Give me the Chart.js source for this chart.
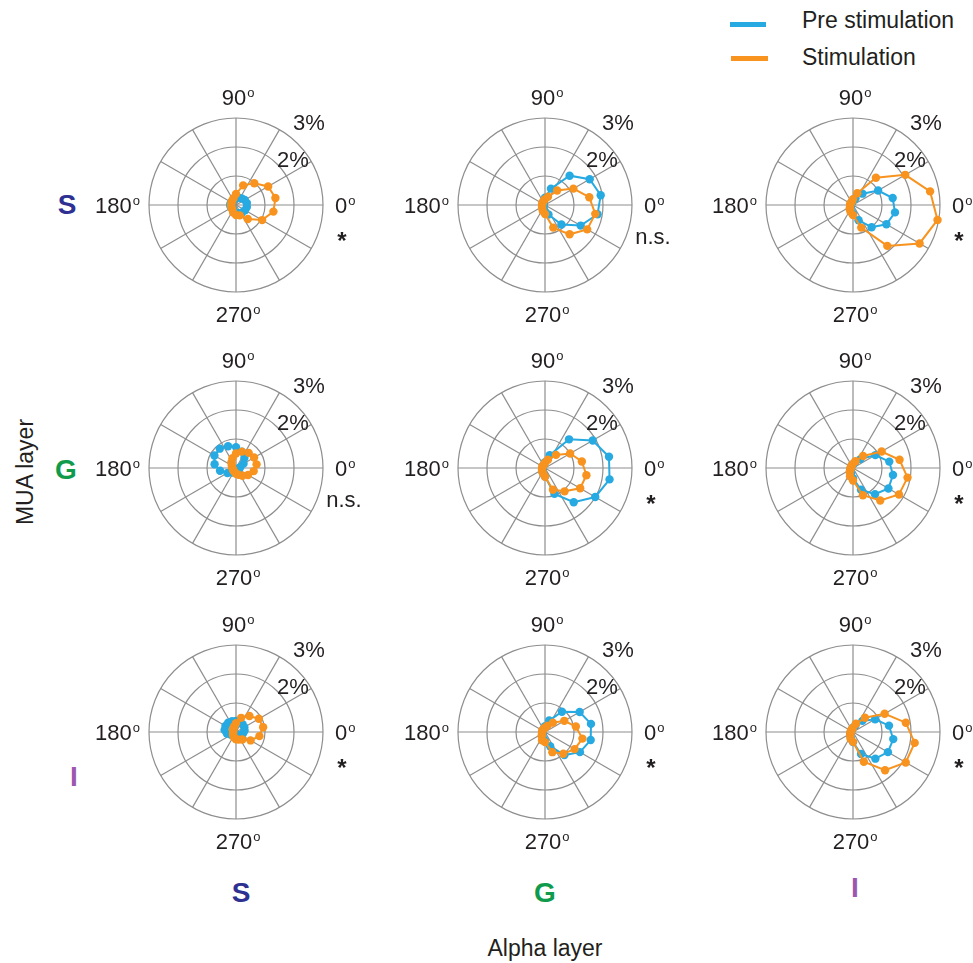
<!DOCTYPE html>
<html>
<head>
<meta charset="utf-8">
<script src="https://cdn.jsdelivr.net/npm/chart.js@4.4.1/dist/chart.umd.min.js"></script>
<style>
  body { margin: 0; background: #fff; }
  #fig { position: relative; width: 973px; height: 963px; overflow: hidden;
         font-family: "Liberation Sans", Arial, sans-serif; color: #231f20; }
  #fig canvas { position: absolute; }
  .txt { position: absolute; white-space: nowrap; transform: translate(-50%, -50%); }
  .leg { position: absolute; white-space: nowrap; transform: translateY(-50%); font-size: 23px; }
  .lay { font-weight: bold; font-size: 28px; }
  .bar { position: absolute; height: 5px; }
</style>
</head>
<body>
<div id="fig">
  <div class="bar" style="left:730px;top:22px;width:36px;background:#27aae1"></div>
  <div class="leg" style="left:802px;top:20px;">Pre stimulation</div>
  <div class="bar" style="left:731px;top:56px;width:37px;background:#f7931e"></div>
  <div class="leg" style="left:802px;top:57px;">Stimulation</div>

  <div class="txt lay" style="left:67px;top:205px;color:#2e3192">S</div>
  <div class="txt lay" style="left:66px;top:470px;color:#0f9b4b">G</div>
  <div class="txt lay" style="left:74px;top:777px;color:#9b57b0">I</div>
  <div class="txt lay" style="left:241px;top:893px;color:#2e3192">S</div>
  <div class="txt lay" style="left:545px;top:893px;color:#0f9b4b">G</div>
  <div class="txt lay" style="left:855px;top:888px;color:#9b57b0">I</div>

  <div class="txt" style="left:25px;top:472px;font-size:23px;transform:translate(-50%,-50%) rotate(-90deg)">MUA layer</div>
  <div class="txt" style="left:545px;top:948px;font-size:23px;">Alpha layer</div>
</div>

<script>
// phase bins (deg, counter-clockwise from 0)
const angles = [10, 30, 50, 70, 90, 110, 130, 150, 170, 190, 210, 230, 250, 270, 290, 310, 330, 350];
const ringTicks = [1, 2, 3];
const ringLabels = ['2%', '3%'];
const degLabels = ['0', '90', '180', '270'];

// pre_X_Y / stim_X_Y : MUA layer X, alpha layer Y  (% change)
const pre_S_S  = [0.38, 0.35, 0.30, 0.27, 0.25, 0.20, 0.17, 0.18, 0.20, 0.20, 0.18, 0.17, 0.22, 0.27, 0.30, 0.33, 0.36, 0.38];
const stim_S_S = [1.38, 1.28, 0.98, 0.72, 0.38, 0.25, 0.20, 0.18, 0.17, 0.17, 0.18, 0.20, 0.28, 0.35, 0.38, 0.63, 1.04, 1.31];
const pre_S_G  = [1.95, 1.78, 1.32, 0.60, 0.25, 0.12, 0.08, 0.06, 0.05, 0.05, 0.06, 0.08, 0.15, 0.22, 0.35, 0.88, 1.42, 1.84];
const stim_S_G = [1.55, 1.13, 0.65, 0.30, 0.20, 0.15, 0.12, 0.10, 0.10, 0.10, 0.12, 0.15, 0.22, 0.31, 0.83, 1.32, 1.68, 1.76];
const pre_S_I  = [1.39, 1.00, 0.51, 0.25, 0.15, 0.10, 0.08, 0.07, 0.07, 0.08, 0.10, 0.15, 0.22, 0.30, 0.56, 1.00, 1.33, 1.47];
const stim_S_I = [2.70, 2.08, 1.23, 0.43, 0.20, 0.12, 0.10, 0.10, 0.10, 0.10, 0.12, 0.18, 0.25, 0.35, 0.83, 1.84, 2.65, 2.96];

const pre_G_S  = [0.15, 0.30, 0.45, 0.60, 0.72, 0.80, 0.87, 0.86, 0.75, 0.56, 0.34, 0.20, 0.12, 0.08, 0.06, 0.06, 0.07, 0.10];
const stim_G_S = [0.72, 0.72, 0.68, 0.60, 0.50, 0.36, 0.25, 0.17, 0.13, 0.12, 0.12, 0.13, 0.15, 0.20, 0.25, 0.35, 0.48, 0.62];
const pre_G_G  = [2.24, 1.90, 1.29, 0.47, 0.20, 0.12, 0.10, 0.08, 0.08, 0.08, 0.10, 0.15, 0.20, 0.29, 0.95, 1.54, 2.00, 2.26];
const stim_G_G = [1.29, 1.00, 0.59, 0.30, 0.18, 0.12, 0.10, 0.10, 0.10, 0.10, 0.12, 0.15, 0.20, 0.30, 0.80, 1.05, 1.40, 1.45];
const pre_G_I  = [1.27, 0.89, 0.40, 0.20, 0.12, 0.10, 0.08, 0.07, 0.07, 0.08, 0.10, 0.15, 0.20, 0.35, 0.80, 1.18, 1.41, 1.40];
const stim_G_I = [1.63, 1.14, 0.54, 0.25, 0.15, 0.10, 0.08, 0.08, 0.08, 0.08, 0.10, 0.18, 0.30, 0.43, 1.00, 1.46, 1.83, 1.91];

const pre_I_S  = [0.30, 0.33, 0.35, 0.38, 0.38, 0.40, 0.42, 0.42, 0.40, 0.32, 0.20, 0.12, 0.08, 0.10, 0.12, 0.15, 0.20, 0.25];
const stim_I_S = [0.95, 0.91, 0.72, 0.52, 0.30, 0.20, 0.15, 0.12, 0.10, 0.10, 0.12, 0.15, 0.20, 0.25, 0.28, 0.34, 0.58, 0.82];
const pre_I_G  = [1.61, 1.38, 0.91, 0.42, 0.20, 0.12, 0.10, 0.08, 0.08, 0.08, 0.10, 0.15, 0.22, 0.30, 0.52, 1.04, 1.39, 1.60];
const stim_I_G = [1.08, 0.77, 0.42, 0.22, 0.15, 0.12, 0.10, 0.10, 0.10, 0.10, 0.12, 0.18, 0.30, 0.35, 0.74, 0.98, 1.18, 1.31];
const pre_I_I  = [1.26, 0.88, 0.50, 0.25, 0.15, 0.10, 0.08, 0.07, 0.07, 0.08, 0.10, 0.15, 0.22, 0.35, 0.81, 1.20, 1.39, 1.41];
const stim_I_I = [1.85, 1.26, 0.64, 0.30, 0.15, 0.10, 0.08, 0.08, 0.08, 0.08, 0.10, 0.15, 0.25, 0.34, 1.09, 1.72, 2.10, 2.16];

const panels = [
  { pre: pre_S_S, stim: stim_S_S, sig: '*' },
  { pre: pre_S_G, stim: stim_S_G, sig: 'n.s.' },
  { pre: pre_S_I, stim: stim_S_I, sig: '*' },
  { pre: pre_G_S, stim: stim_G_S, sig: 'n.s.' },
  { pre: pre_G_G, stim: stim_G_G, sig: '*' },
  { pre: pre_G_I, stim: stim_G_I, sig: '*' },
  { pre: pre_I_S, stim: stim_I_S, sig: '*' },
  { pre: pre_I_G, stim: stim_I_G, sig: '*' },
  { pre: pre_I_I, stim: stim_I_I, sig: '*' }
];

const centersX = [236, 545, 853];
const centersY = [205, 468, 732];
const SIZE = 300, RADIUS = 87;

const BLUE = '#27aae1', ORANGE = '#f7931e', GRID = '#8e8e8e', INK = '#231f20';
const FONT = '"Liberation Sans", Arial, sans-serif';

// 36 slots of 10 deg, radar goes clockwise from startAngle, so slot j = (360 - 10j) deg
const slotLabels = [];
for (let j = 0; j < 36; j++) slotLabels.push(String((360 - 10 * j) % 360));

function toSlots(vals) {
  const out = new Array(36).fill(null);
  angles.forEach((a, k) => { out[(36 - a / 10) % 36] = vals[k]; });
  return out;
}

function degText(ctx, num, x, y, align) {
  ctx.font = '22px ' + FONT;
  const w = ctx.measureText(num).width;
  ctx.font = '13px ' + FONT;
  const wo = ctx.measureText('o').width;
  let x0 = x;
  if (align === 'center') x0 = x - w / 2;
  if (align === 'right') x0 = x - w - wo - 1;
  ctx.textAlign = 'left';
  ctx.textBaseline = 'alphabetic';
  ctx.font = '22px ' + FONT;
  ctx.fillText(num, x0, y);
  ctx.font = '13px ' + FONT;
  ctx.fillText('o', x0 + w + 1, y - 8);
}

const panelText = {
  id: 'panelText',
  afterDraw(chart, args, opts) {
    const s = chart.scales.r, ctx = chart.ctx;
    const cx = s.xCenter, cy = s.yCenter;
    ctx.save();
    ctx.fillStyle = INK;
    degText(ctx, degLabels[1], cx - 2, cy - 100, 'center');
    degText(ctx, degLabels[3], cx - 2, cy + 117, 'center');
    degText(ctx, degLabels[2], cx - 96, cy + 8, 'right');
    degText(ctx, degLabels[0], cx + 99, cy + 8, 'left');
    ctx.font = '22px ' + FONT;
    ctx.textAlign = 'left';
    ctx.fillText(ringLabels[1], cx + 57, cy - 75);
    ctx.fillText(ringLabels[0], cx + 41, cy - 38);
    ctx.textAlign = 'center';
    if (opts.sig === '*') {
      ctx.font = 'bold 24px ' + FONT;
      ctx.fillText('*', cx + 106, cy + 44);
    } else {
      ctx.fillText(opts.sig, cx + 108, cy + 39);
    }
    ctx.restore();
  }
};

const fig = document.getElementById('fig');
panels.forEach((p, i) => {
  const row = Math.floor(i / 3), col = i % 3;
  const cv = document.createElement('canvas');
  cv.width = SIZE; cv.height = SIZE;
  cv.style.left = (centersX[col] - SIZE / 2) + 'px';
  cv.style.top = (centersY[row] - SIZE / 2) + 'px';
  fig.appendChild(cv);

  new Chart(cv, {
    type: 'radar',
    data: {
      labels: slotLabels,
      datasets: [
        { label: 'Stimulation', data: toSlots(p.stim), borderColor: ORANGE, backgroundColor: ORANGE,
          pointBackgroundColor: ORANGE, order: 0 },
        { label: 'Pre stimulation', data: toSlots(p.pre), borderColor: BLUE, backgroundColor: BLUE,
          pointBackgroundColor: BLUE, order: 1 }
      ]
    },
    options: {
      responsive: false,
      animation: false,
      devicePixelRatio: 1,
      layout: { padding: (SIZE - 2 * RADIUS) / 2 },
      elements: {
        line: { borderWidth: 2, fill: false, tension: 0 },
        point: { radius: 4.2, borderWidth: 0, hoverRadius: 4.2 }
      },
      datasets: { radar: { spanGaps: true } },
      plugins: { legend: { display: false }, tooltip: { enabled: false }, panelText: { sig: p.sig } },
      scales: {
        r: {
          min: 0, max: ringTicks[ringTicks.length - 1],
          startAngle: 90,
          ticks: { display: false, stepSize: 1 },
          pointLabels: { display: false },
          grid: { circular: true, color: GRID, lineWidth: 1.2 },
          angleLines: {
            color: GRID,
            lineWidth: ctx => (ctx.index % 3 === 0 ? 1.2 : 0)
          }
        }
      }
    },
    plugins: [panelText]
  });
});
</script>
</body>
</html>
